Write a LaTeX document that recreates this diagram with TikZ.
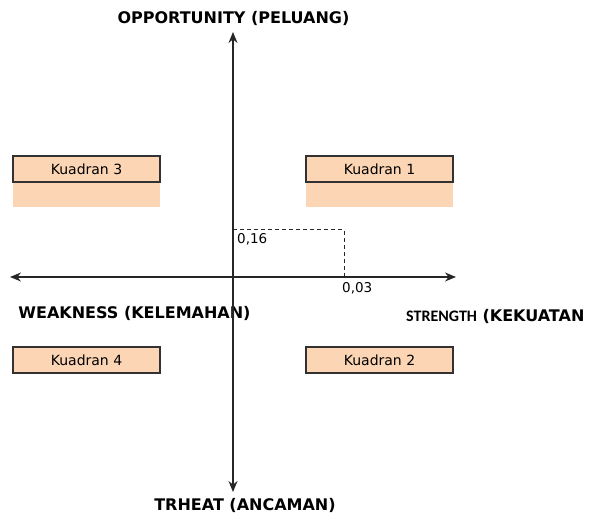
\documentclass[tikz,border=0pt]{standalone}
\usepackage{fontspec}
\setmainfont{DejaVu Sans}
\newfontfamily\calfont{Carlito}
\usetikzlibrary{arrows.meta,positioning}
\definecolor{peach}{RGB}{252,213,180}
\definecolor{boxline}{RGB}{50,50,50}
\begin{document}
\begin{tikzpicture}
				[x=1pt,y=-1pt,
				axis/.style={{Stealth[length=11pt,width=9pt]}-{Stealth[length=11pt,width=9pt]}, line width=1.3pt, black!85},
				title/.style={font=\fontsize{16}{16}\selectfont\bfseries, inner sep=0pt},
				kuadran/.style={draw=boxline, line width=1.3pt, fill=peach, minimum width=147pt, minimum height=26pt, inner sep=0pt, font=\fontsize{14}{14}\selectfont},
				shade/.style={fill=peach, minimum width=147pt, minimum height=25pt, inner sep=0pt},
				val/.style={font=\fontsize{13.5}{13.5}\selectfont, inner sep=0pt, anchor=north west}]
				\useasboundingbox (0,0) rectangle (590,513);
				\coordinate (top) at (233,32);
				\coordinate (bottom) at (233,492);
				\coordinate (left) at (10,277);
				\coordinate (right) at (456,277);
				\coordinate (p16) at (233,230);
				\coordinate (p03) at (344,277);

				\node[title] (opp) at (233.5,18) {OPPORTUNITY (PELUANG)};
				\node[title] (weak) at (134.5,313) {WEAKNESS (KELEMAHAN)};
				\node[title, anchor=west] (str) at (406,316) {{\calfont\fontsize{16}{16}\selectfont STRENGTH} (KEKUATAN};
				\node[title] (thr) at (245,505) {TRHEAT (ANCAMAN)};

				\node[shade] (k3b) at (86.5,194.5) {};
				\node[shade] (k1b) at (379.5,194.5) {};
				\node[kuadran] (k3) at (86.5,169) {Kuadran 3};
				\node[kuadran] (k1) at (379.5,169) {Kuadran 1};
				\node[kuadran] (k4) at (86.5,360) {Kuadran 4};
				\node[kuadran] (k2) at (379.5,360) {Kuadran 2};

				\draw[axis] (top) -- (bottom);
				\draw[axis] (left) -- (right);
				\draw[dashed, line width=1pt, black!85, dash pattern=on 4pt off 3pt] (p16) -| (p03);
				\node[val] (v16) at (237,233) {0,16};
				\node[val] (v03) at (342,282) {0,03};
				\end{tikzpicture}
\end{document}
